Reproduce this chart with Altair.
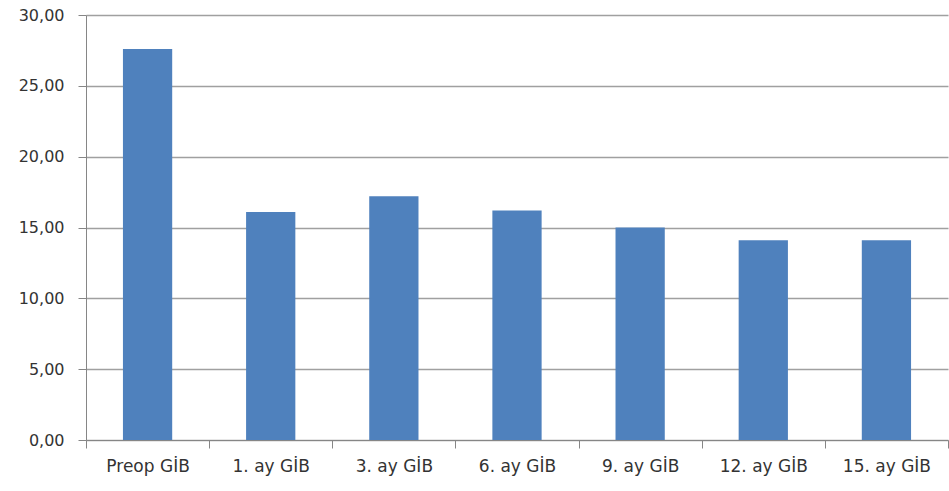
import altair as alt
import pandas as pd

categories = ["Preop GİB", "1. ay GİB", "3. ay GİB", "6. ay GİB", "9. ay GİB", "12. ay GİB", "15. ay GİB"]
values = [27.6, 16.1, 17.2, 16.2, 15.0, 14.1, 14.1]
y_ticks = [0, 5, 10, 15, 20, 25, 30]

df = pd.DataFrame({"cat": categories, "val": values})

chart = alt.Chart(df).mark_bar(
    color="#4F81BD", width=alt.RelativeBandSize(0.4)
).encode(
    x=alt.X("cat:N", sort=categories, title=None,
            scale=alt.Scale(paddingInner=0, paddingOuter=0),
            axis=alt.Axis(labelAngle=0, tickBand="extent", domainColor="#868686",
                          tickColor="#868686", tickSize=8, labelPadding=10,
                          labelFont="DejaVu Sans", labelFontSize=17, labelColor="#333333",
                          grid=False)),
    y=alt.Y("val:Q", title=None,
            scale=alt.Scale(domain=[0, 30], nice=False),
            axis=alt.Axis(values=y_ticks, labelExpr="replace(format(datum.value, '.2f'), '.', ',')",
                          domainColor="#868686", tickColor="#868686", tickSize=8,
                          labelPadding=14, labelFont="DejaVu Sans", labelFontSize=16,
                          labelColor="#333333", gridColor="#a0a0a0", gridWidth=1.3)),
).properties(
    width=862, height=425,
    autosize=alt.AutoSizeParams(type="none"),
    padding={"left": 86, "top": 15, "right": 1, "bottom": 51},
).configure_view(stroke=None)

chart.save("out.html", embed_options={"renderer": "svg", "actions": False})
